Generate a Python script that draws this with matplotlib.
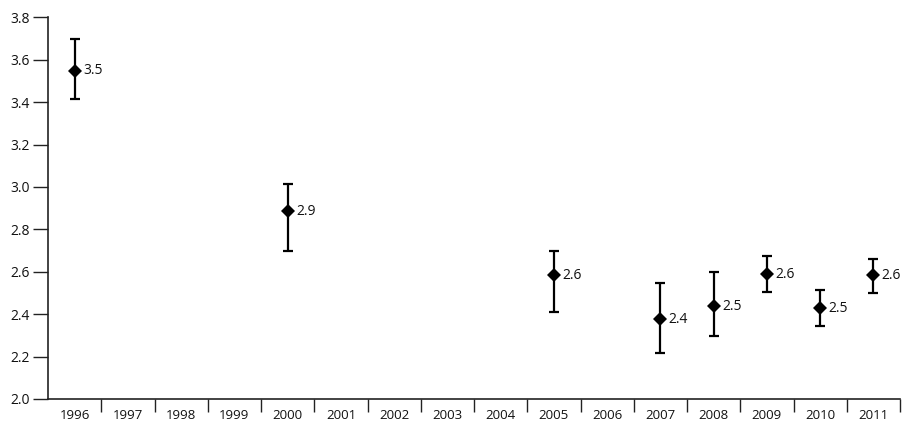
import matplotlib
matplotlib.use("Agg")
import matplotlib.pyplot as plt
import numpy as np
from matplotlib.ticker import FixedLocator, NullFormatter

plt.rcParams['font.family'] = ['Open Sans', 'DejaVu Sans']

years = ['1996', '1997', '1998', '1999', '2000', '2001', '2002', '2003',
         '2004', '2005', '2006', '2007', '2008', '2009', '2010', '2011']
point_years = ['1996', '2000', '2005', '2007', '2008', '2009', '2010', '2011']
values = [3.548, 2.886, 2.584, 2.377, 2.438, 2.589, 2.429, 2.584]
upper = [3.698, 3.013, 2.698, 2.548, 2.597, 2.675, 2.514, 2.658]
lower = [3.415, 2.698, 2.410, 2.215, 2.298, 2.506, 2.345, 2.501]
labels = ['3.5', '2.9', '2.6', '2.4', '2.5', '2.6', '2.5', '2.6']
yticks = [2.0, 2.2, 2.4, 2.6, 2.8, 3.0, 3.2, 3.4, 3.6, 3.8]

W, H = 905, 424
fig = plt.figure(figsize=(W / 100, H / 100), dpi=100)
ax = fig.add_axes([48 / W, 1 - 399 / H, (900 - 48) / W, (399 - 17.3) / H])

xpos = np.array([years.index(y) for y in point_years], dtype=float)
vals = np.array(values)
yerr = np.vstack([vals - np.array(lower), np.array(upper) - vals])

eb = ax.errorbar(xpos, vals, yerr=yerr, fmt='D', color='black', ecolor='black',
                 elinewidth=1.6, capsize=3.5, capthick=1.6, markersize=7)
eb[0].set_markeredgewidth(0)

for x, v, lab in zip(xpos, vals, labels):
    ax.annotate(lab, (x, v), xytext=(6.0, 0), textcoords='offset points',
                va='center', ha='left', fontsize=10, color='#111111')

ax.set_xlim(-0.5, len(years) - 0.5)
ax.set_ylim(2.0, 3.8)

ax.set_xticks(np.arange(len(years)))
ax.set_xticklabels(years, fontsize=9.5, color='#111111')
ax.tick_params(axis='x', which='major', length=0, pad=7)
ax.xaxis.set_minor_locator(FixedLocator(np.arange(0.5, len(years), 1.0)))
ax.xaxis.set_minor_formatter(NullFormatter())
ax.tick_params(axis='x', which='minor', length=9.5, width=1, direction='out', color='#222222')

ax.set_yticks(yticks)
ax.set_yticklabels([f"{t:.1f}" for t in yticks], fontsize=10, color='#111111')
ax.tick_params(axis='y', length=11, width=1, pad=2, color='#222222')

for s in ['top', 'right']:
    ax.spines[s].set_visible(False)
for s in ['left', 'bottom']:
    ax.spines[s].set_linewidth(1.2)
    ax.spines[s].set_color('#222222')

fig.savefig('out.png', dpi=100)
